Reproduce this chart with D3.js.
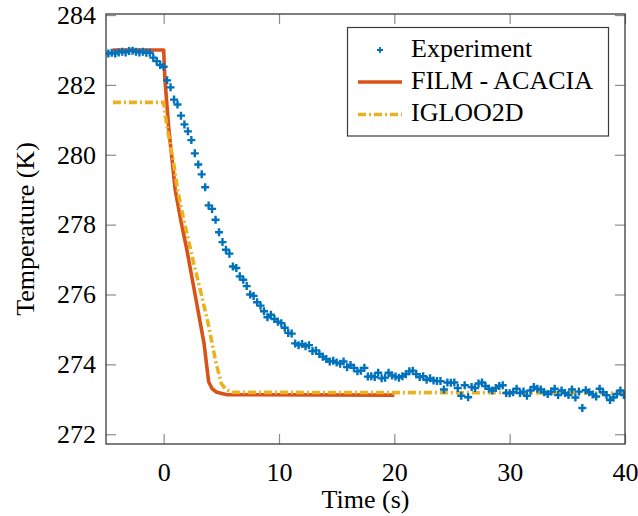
<!DOCTYPE html>
<html>
<head>
<meta charset="utf-8">
<script src="https://cdn.jsdelivr.net/npm/d3@7"></script>
<style>
  body { margin: 0; background: #fff; }
  text { font-family: "Liberation Serif", "Times New Roman", serif; fill: #000; }
</style>
</head>
<body>
<div id="chart"></div>
<script>
// Experiment: [time (s), temperature (K)]
var experiment = [
  [-4.8,282.90],[-4.5,282.92],[-4.2,282.90],[-3.9,282.93],[-3.6,282.95],[-3.3,282.93],[-3.0,282.97],[-2.7,282.98],
  [-2.4,282.95],[-2.1,282.93],[-1.8,282.95],[-1.5,282.92],[-1.2,282.92],[-0.9,282.78],[-0.6,282.68],[-0.3,282.57],
  [0.0,282.52],[0.3,282.13],[0.6,281.93],[0.9,281.58],[1.2,281.44],[1.5,281.12],[1.8,280.87],[2.1,280.67],
  [2.4,280.42],[2.7,280.04],[3.0,279.72],[3.3,279.44],[3.6,279.07],[3.9,278.55],[4.2,278.45],[4.5,278.14],
  [4.8,277.78],[5.1,277.50],[5.4,277.28],[5.7,277.17],[6.0,276.80],[6.3,276.76],[6.6,276.52],[6.9,276.42],
  [7.2,276.24],[7.5,276.00],[7.8,275.96],[8.1,275.78],[8.4,275.68],[8.7,275.52],[9.0,275.35],[9.3,275.42],
  [9.6,275.30],[9.9,275.22],[10.2,275.18],[10.5,275.05],[10.8,274.90],[11.1,274.88],[11.4,274.60],[11.7,274.55],
  [12.0,274.58],[12.3,274.52],[12.6,274.55],[12.9,274.38],[13.2,274.40],[13.5,274.30],[13.8,274.22],[14.1,274.15],
  [14.4,274.08],[14.7,274.10],[15.0,274.05],[15.3,274.02],[15.6,274.08],[15.9,273.92],[16.2,273.98],[16.5,273.90],
  [16.8,273.80],[17.1,273.82],[17.4,273.90],[17.7,273.65],[18.0,273.66],[18.3,273.64],[18.6,273.76],[18.9,273.60],
  [19.2,273.62],[19.5,273.76],[19.8,273.68],[20.1,273.65],[20.4,273.62],[20.7,273.66],[21.0,273.72],[21.3,273.80],
  [21.6,273.82],[21.9,273.72],[22.2,273.64],[22.5,273.66],[22.8,273.56],[23.1,273.60],[23.4,273.54],[23.7,273.52],
  [24.0,273.52],[24.3,273.28],[24.6,273.48],[24.9,273.47],[25.2,273.48],[25.5,273.32],[25.8,273.10],[26.1,273.40],
  [26.4,273.06],[26.7,273.35],[27.0,273.32],[27.3,273.45],[27.6,273.48],[27.9,273.38],[28.2,273.30],[28.5,273.25],
  [28.8,273.32],[29.1,273.38],[29.4,273.40],[29.7,273.18],[30.0,273.17],[30.3,273.20],[30.6,273.30],[30.9,273.18],
  [31.2,273.22],[31.5,273.10],[31.8,273.25],[32.1,273.35],[32.4,273.30],[32.7,273.28],[33.0,273.20],[33.3,273.15],
  [33.6,273.22],[33.9,273.30],[34.2,273.12],[34.5,273.25],[34.8,273.18],[35.1,273.12],[35.4,273.28],[35.7,273.05],
  [36.0,273.22],[36.3,272.75],[36.6,273.26],[36.9,273.20],[37.2,273.14],[37.5,273.08],[37.8,273.30],[38.1,273.20],
  [38.4,273.12],[38.7,272.98],[39.0,273.05],[39.3,273.15],[39.6,273.25],[39.9,273.12]
];

// FILM - ACACIA
var film = [
  [-4.4,283.0],[0.0,283.0],[0.1,282.2],[0.43,280.8],[1.0,279.0],[1.5,278.1],[2.0,277.3],[2.5,276.4],
  [3.0,275.5],[3.5,274.6],[3.9,273.5],[4.2,273.3],[4.6,273.2],[5.5,273.13],[20.0,273.12]
];

// IGLOO2D
var igloo = [
  [-4.4,281.5],[0.0,281.5],[0.1,281.2],[0.4,280.6],[0.8,279.9],[1.2,279.0],[1.7,278.2],[2.6,276.9],
  [3.2,276.1],[3.9,275.1],[4.5,274.1],[5.0,273.45],[5.4,273.28],[6.0,273.2],[40.0,273.18]
];

var xTicks = [0, 10, 20, 30, 40];
var yTicks = [272, 274, 276, 278, 280, 282, 284];
var legendNames = ["Experiment", "FILM - ACACIA", "IGLOO2D"];

var W = 638, H = 516;
var mLeft = 106, mRight = 625, mTop = 14, mBottom = 444;
var blue = "#0072BD", orange = "#D95319", yellow = "#EDB120";
var serif = "'Liberation Serif', 'Times New Roman', serif";

var svg = d3.select("#chart").append("svg")
  .attr("width", W).attr("height", H);

var x = d3.scaleLinear().domain([-5, 40]).range([mLeft, mRight]);
var y = d3.scaleLinear().domain([271.72, 284.03]).range([mBottom, mTop]);

// axes (ticks inside, mirrored on all sides)
svg.append("g")
  .attr("transform", "translate(0," + mBottom + ")")
  .call(d3.axisBottom(x).tickValues(xTicks).tickSizeInner(-10).tickSizeOuter(0).tickPadding(19))
  .call(g => g.select(".domain").remove());

svg.append("g")
  .attr("transform", "translate(0," + mTop + ")")
  .call(d3.axisTop(x).tickValues(xTicks).tickSizeInner(-10).tickSizeOuter(0).tickFormat(""))
  .call(g => g.select(".domain").remove());

svg.append("g")
  .attr("transform", "translate(" + mLeft + ",0)")
  .call(d3.axisLeft(y).tickValues(yTicks).tickSizeInner(-10).tickSizeOuter(0).tickPadding(10))
  .call(g => g.select(".domain").remove());

svg.append("g")
  .attr("transform", "translate(" + mRight + ",0)")
  .call(d3.axisRight(y).tickValues(yTicks).tickSizeInner(-10).tickSizeOuter(0).tickFormat(""))
  .call(g => g.select(".domain").remove());

svg.selectAll(".tick line").attr("stroke", "#8c8c8c").attr("stroke-width", 1.2);
svg.selectAll(".tick text")
  .style("font-family", serif)
  .style("font-size", "26px")
  .style("fill", "#000");

// clip to plot area
svg.append("clipPath").attr("id", "plotclip")
  .append("rect").attr("x", mLeft).attr("y", mTop)
  .attr("width", mRight - mLeft).attr("height", mBottom - mTop);

var plot = svg.append("g").attr("clip-path", "url(#plotclip)");

var line = d3.line().x(d => x(d[0])).y(d => y(d[1]));

plot.append("path")
  .datum(film)
  .attr("d", line)
  .attr("fill", "none")
  .attr("stroke", orange)
  .attr("stroke-width", 3.6)
  .attr("stroke-linejoin", "round");

plot.append("path")
  .datum(igloo)
  .attr("d", line)
  .attr("fill", "none")
  .attr("stroke", yellow)
  .attr("stroke-width", 3.6)
  .attr("stroke-dasharray", "8 3 2 3");

// plus markers
var plus = function(s) { return "M" + (-s) + ",0H" + s + "M0," + (-s) + "V" + s; };

plot.selectAll(".exp")
  .data(experiment)
  .enter().append("path")
  .attr("class", "exp")
  .attr("transform", d => "translate(" + x(d[0]) + "," + y(d[1]) + ")")
  .attr("d", plus(4))
  .attr("stroke", blue)
  .attr("stroke-width", 2.4)
  .attr("fill", "none");

// axis box
svg.append("rect")
  .attr("x", mLeft).attr("y", mTop)
  .attr("width", mRight - mLeft).attr("height", mBottom - mTop)
  .attr("fill", "none")
  .attr("stroke", "#3a3a3a")
  .attr("stroke-width", 1.3);

// axis titles
svg.append("text")
  .attr("x", (mLeft + mRight) / 2)
  .attr("y", 508)
  .attr("text-anchor", "middle")
  .attr("font-size", 26)
  .text("Time (s)");

svg.append("text")
  .attr("transform", "translate(34," + ((mTop + mBottom) / 2) + ") rotate(-90)")
  .attr("text-anchor", "middle")
  .attr("font-size", 26)
  .text("Temperature (K)");

// legend
var legend = svg.append("g");
legend.append("rect")
  .attr("x", 347.5).attr("y", 27.5)
  .attr("width", 261).attr("height", 108.5)
  .attr("fill", "#fff")
  .attr("stroke", "#3a3a3a")
  .attr("stroke-width", 1.2);

var rowY = [50, 82, 114.5];

legend.append("path")
  .attr("transform", "translate(380," + rowY[0] + ")")
  .attr("d", plus(3))
  .attr("stroke", blue)
  .attr("stroke-width", 1.8);

legend.append("line")
  .attr("x1", 358).attr("x2", 402)
  .attr("y1", rowY[1]).attr("y2", rowY[1])
  .attr("stroke", orange).attr("stroke-width", 3.6);

legend.append("line")
  .attr("x1", 358).attr("x2", 402)
  .attr("y1", rowY[2]).attr("y2", rowY[2])
  .attr("stroke", yellow).attr("stroke-width", 3.6)
  .attr("stroke-dasharray", "8 3 2 3");

legend.selectAll(".lbl")
  .data(legendNames)
  .enter().append("text")
  .attr("class", "lbl")
  .attr("x", 411)
  .attr("y", (d, i) => rowY[i] + 6.5)
  .attr("font-size", 26)
  .text(d => d);
</script>
</body>
</html>
